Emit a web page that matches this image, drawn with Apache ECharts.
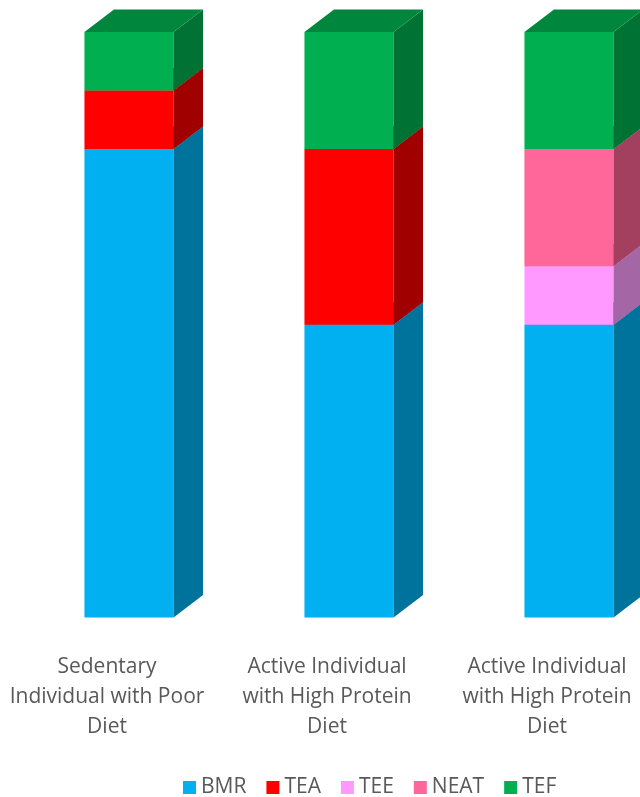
<!DOCTYPE html>
<html>
<head>
<meta charset="utf-8">
<script src="https://cdn.jsdelivr.net/npm/echarts@6/dist/echarts.min.js"></script>
<style>
  html, body { margin: 0; padding: 0; background: #fff; }
  #chart { width: 640px; height: 797px; }
</style>
</head>
<body>
<div id="chart"></div>
<script>
// categories and stacked components (share of daily energy, in tenths)
const categories = [
    'Sedentary\nIndividual with Poor\nDiet',
    'Active Individual\nwith High Protein\nDiet',
    'Active Individual\nwith High Protein\nDiet'
];
const seriesNames = ['BMR', 'TEA', 'TEE', 'NEAT', 'TEF'];
const bmr  = [8, 5, 5];
const tea  = [1, 3, 0];
const tee  = [0, 0, 1];
const neat = [0, 0, 2];
const tef  = [1, 2, 2];

const frontColors = ['#00B0F0', '#FF0000', '#FF99FF', '#FF6699', '#00B050'];
const sideColors  = ['#00739D', '#A00000', '#A566A6', '#A3405F', '#007233'];
const topColors   = ['#0089BB', '#C00000', '#C77AC8', '#C64F74', '#00873D'];

document.addEventListener('DOMContentLoaded', () => {
    const chart = echarts.init(document.getElementById('chart'));
    const valuesList = [bmr, tea, tee, neat, tef];
    const FONT = '"Open Sans", "Liberation Sans", sans-serif';

    // 3D box drawn for one stacked segment
    function makeRender(si) {
        return function (params, api) {
            const ci = api.value(0);
            const v = api.value(1);
            const base = api.value(2);
            if (!v) return null;
            const p0 = api.coord([ci, base]);
            const p1 = api.coord([ci, base + v]);
            const band = api.size([1, 0])[0];
            const bw = band * 0.405;
            const dx = 29.5, dy = 22.5;
            const x0 = p0[0] + band * 0.1 - bw / 2;
            const x1 = x0 + bw;
            const yb = p0[1], yt = p1[1];
            return {
                type: 'group',
                children: [
                    {
                        type: 'rect',
                        shape: { x: x0, y: yt, width: bw, height: yb - yt },
                        style: { fill: frontColors[si] }
                    },
                    {
                        type: 'polygon',
                        shape: { points: [[x1, yb], [x1 + dx, yb - dy], [x1 + dx, yt - dy], [x1, yt]] },
                        style: { fill: sideColors[si] }
                    },
                    {
                        type: 'polygon',
                        shape: { points: [[x0, yt], [x1, yt], [x1 + dx, yt - dy], [x0 + dx, yt - dy]] },
                        style: { fill: topColors[si] }
                    }
                ]
            };
        };
    }

    const series = seriesNames.map((name, si) => ({
        name: name,
        type: 'custom',
        renderItem: makeRender(si),
        itemStyle: { color: frontColors[si] },
        encode: { x: 0, y: 1 },
        data: categories.map((c, ci) => {
            let base = 0;
            for (let k = 0; k < si; k++) base += valuesList[k][ci];
            return [ci, valuesList[si][ci], base];
        })
    }));

    const option = {
        animation: false,
        grid: { left: -3, width: 660, top: 32, bottom: 179.5, outerBoundsMode: 'none', containLabel: false },
        legend: {
            data: seriesNames,
            bottom: -6,
            left: 178,
            icon: 'rect',
            itemWidth: 13,
            itemHeight: 13,
            itemGap: 20,
            textStyle: { fontFamily: FONT, fontSize: 21, color: '#595959' }
        },
        xAxis: {
            type: 'category',
            data: categories,
            axisLine: { show: false },
            axisTick: { show: false },
            axisLabel: {
                interval: 0,
                margin: 35,
                fontFamily: FONT,
                fontSize: 21,
                lineHeight: 30,
                color: '#595959'
            }
        },
        yAxis: {
            type: 'value',
            min: 0,
            max: 10,
            show: false,
            splitLine: { show: false }
        },
        series: series
    };
    chart.setOption(option);
});
</script>
</body>
</html>
